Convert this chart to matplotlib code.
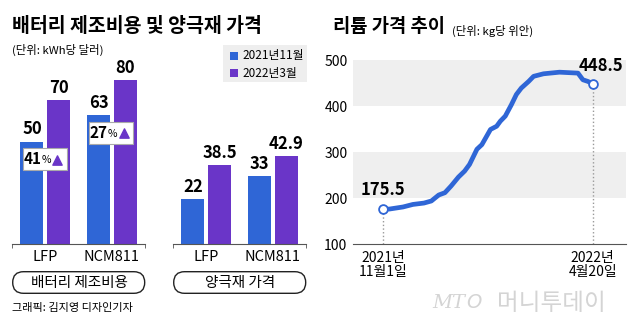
import numpy as np
import pandas as pd
import matplotlib.pyplot as plt
from matplotlib.patches import Rectangle, FancyBboxPatch
from matplotlib.transforms import IdentityTransform

# data
groups = ['LFP', 'NCM811']
legend_labels = ['2021년11월', '2022년3월']
cost_2021 = [50, 63]
cost_2022 = [70, 80]
cost_change = ['41', '27']
cathode_2021 = [22, 33]
cathode_2022 = [38.5, 42.9]
panel_names = ['배터리 제조비용', '양극재 가격']

lithium_dates = ['2021-11-01', '2021-11-06', '2021-11-17', '2021-11-25', '2021-12-04',
                 '2021-12-10', '2021-12-16', '2021-12-21', '2021-12-26', '2022-01-01',
                 '2022-01-06', '2022-01-10', '2022-01-16', '2022-01-20', '2022-01-27',
                 '2022-02-01', '2022-02-04', '2022-02-08', '2022-02-13', '2022-02-17',
                 '2022-02-21', '2022-02-27', '2022-03-03', '2022-03-11', '2022-03-24',
                 '2022-04-08', '2022-04-12', '2022-04-16', '2022-04-20']
lithium_price = [175.5, 176, 180.5, 186, 189, 193.5, 206.5, 211.5, 226, 245.5,
                 258.5, 273, 306, 316, 349, 356, 367, 378, 403, 425,
                 439, 453.5, 464.5, 470, 473.5, 471.5, 457, 453.5, 448.5]
date_labels = ['2021년\n11월1일', '2022년\n4월20일']

BLUE = '#2f66d6'
PURPLE = '#6a35c8'
KR = ['Noto Sans CJK KR', 'DejaVu Sans']
NUM = ['Liberation Sans Narrow', 'Noto Sans CJK KR']

plt.rcParams['font.family'] = NUM
W, H = 640, 328
fig = plt.figure(figsize=(6.4, 3.28), dpi=100)


def fx(x):
    return x / W


def fy(y):
    return 1 - y / H


def bar_panel(left, a, b, name, changes=None):
    ax = fig.add_axes([fx(left), fy(244), fx(133), 164 / H])
    x = np.arange(len(groups))
    ax.bar(x - 0.2, a, width=0.345, color=BLUE)
    ax.bar(x + 0.2, b, width=0.345, color=PURPLE)
    for i in range(len(groups)):
        ax.text(x[i] - 0.2, a[i] + 1.5, f'{a[i]:g}', ha='center', va='bottom',
                fontsize=12, fontweight='bold', family=NUM)
        ax.text(x[i] + 0.2, b[i] + 1.5, f'{b[i]:g}', ha='center', va='bottom',
                fontsize=12, fontweight='bold', family=NUM)
    ax.set_xlim(-0.5, 1.5)
    ax.set_ylim(0, 80)
    for s in ['top', 'right', 'left']:
        ax.spines[s].set_visible(False)
    ax.spines['bottom'].set_color('#555555')
    ax.spines['bottom'].set_linewidth(0.8)
    ax.set_yticks([])
    ax.set_xticks(x)
    ax.set_xticklabels(groups, fontsize=10.5, family=NUM)
    ax.tick_params(axis='x', length=0, pad=4)
    ax.set_xticks([-0.5, 1.5], minor=True)
    ax.tick_params(axis='x', which='minor', length=3, color='#555555')
    if changes:
        for i, c in enumerate(changes):
            yb = a[i] - 14
            ax.add_patch(Rectangle((x[i] - 0.335, yb), 0.66, 10.7, facecolor='white',
                                   edgecolor='#aaaaaa', linewidth=0.8, zorder=3))
            ax.text(x[i] - 0.06, yb + 5.3, c, ha='right', va='center', fontsize=11,
                    fontweight='bold', family=NUM, zorder=4)
            ax.text(x[i] - 0.055, yb + 4.8, '%', ha='left', va='center', fontsize=7.5,
                    family=NUM, zorder=4)
            ax.scatter([x[i] + 0.18], [yb + 5.0], marker='^', s=45, color=PURPLE, zorder=4)
    # pill label
    pill = FancyBboxPatch((left + 0.7, H - 293.3), 132, 21.6,
                          boxstyle='round,pad=0,rounding_size=10.8',
                          transform=IdentityTransform(), facecolor='white',
                          edgecolor='#222222', linewidth=1)
    fig.patches.append(pill)
    fig.text(fx(left + 67), fy(282.5), name, ha='center', va='center',
             fontsize=10.5, family=KR)
    return ax


bar_panel(12, cost_2021, cost_2022, panel_names[0], cost_change)
bar_panel(173, cathode_2021, cathode_2022, panel_names[1])

# left titles
fig.text(fx(12), fy(27), '배터리 제조비용 및 양극재 가격', ha='left', va='center',
         fontsize=14, fontweight='bold', family=KR)
fig.text(fx(12), fy(50), '(단위: kWh당 달러)', ha='left', va='center', fontsize=8.2, family=KR)
fig.text(fx(12), fy(308), '그래픽: 김지영 디자인기자', ha='left', va='center',
         fontsize=8, family=KR)

# legend box
lg = Rectangle((fx(223), fy(82)), fx(84), 37 / H, transform=fig.transFigure,
               facecolor='#eeeeee', edgecolor='none')
fig.patches.append(lg)
for k, (lab, col) in enumerate(zip(legend_labels, [BLUE, PURPLE])):
    yy = 56 + k * 17
    fig.patches.append(Rectangle((fx(230), fy(yy + 4)), fx(8), 8 / H,
                                 transform=fig.transFigure, facecolor=col, edgecolor='none'))
    fig.text(fx(242), fy(yy), lab, ha='left', va='center', fontsize=8.5, family=NUM)

# lithium chart
ax = fig.add_axes([fx(353), fy(244), fx(273), 184 / H])
dates = pd.to_datetime(lithium_dates)
start, end = dates[0], dates[-1]
ax.set_xlim(start - pd.Timedelta(days=24.6), start + pd.Timedelta(days=197))
ax.set_ylim(100, 500)
ax.axhspan(200, 300, color='#efefef', zorder=0, linewidth=0)
ax.axhspan(400, 500, color='#efefef', zorder=0, linewidth=0)
ax.plot([start, start], [100, lithium_price[0]], ls=':', color='#999999', lw=1, zorder=1)
ax.plot([end, end], [100, lithium_price[-1]], ls=':', color='#999999', lw=1, zorder=1)
ax.plot(dates, lithium_price, color=BLUE, lw=3.4, solid_joinstyle='round',
        solid_capstyle='round', zorder=2)
ax.scatter([start, end], [lithium_price[0], lithium_price[-1]], s=40, facecolor='white',
           edgecolor=BLUE, linewidth=1.3, zorder=3)
ax.text(start, lithium_price[0] + 22, f'{lithium_price[0]:g}', ha='center', va='bottom',
        fontsize=12, fontweight='bold', family=NUM)
ax.text(end + pd.Timedelta(days=6.5), lithium_price[-1] + 18, f'{lithium_price[-1]:g}',
        ha='center', va='bottom', fontsize=12, fontweight='bold', family=NUM)
for s in ['top', 'right', 'left']:
    ax.spines[s].set_visible(False)
ax.spines['bottom'].set_color('#555555')
ax.spines['bottom'].set_linewidth(0.8)
ax.set_yticks([100, 200, 300, 400, 500])
ax.tick_params(axis='y', length=0, pad=4, labelsize=10)
ax.set_xticks([start, end])
ax.set_xticklabels(date_labels, fontsize=10, linespacing=1.0, family=NUM)
ax.tick_params(axis='x', length=0, pad=5)

fig.text(fx(333), fy(27), '리튬 가격 추이', ha='left', va='center',
         fontsize=13.5, fontweight='bold', family=KR)
fig.text(fx(452), fy(31), '(단위: kg당 위안)', ha='left', va='center', fontsize=8.2, family=KR)

# watermark
fig.text(fx(432), fy(303), 'MT', ha='left', va='center', fontsize=14, style='italic',
         color='#d4d4d4', family=['DejaVu Serif'])
fig.text(fx(466), fy(303), 'O', ha='left', va='center', fontsize=14, style='italic',
         color='#d4d4d4', family=['DejaVu Sans'])
fig.text(fx(497), fy(303), '머니투데이', ha='left', va='center', fontsize=17,
         color='#d4d4d4', family=KR)

fig.savefig('out.png', dpi=100)
